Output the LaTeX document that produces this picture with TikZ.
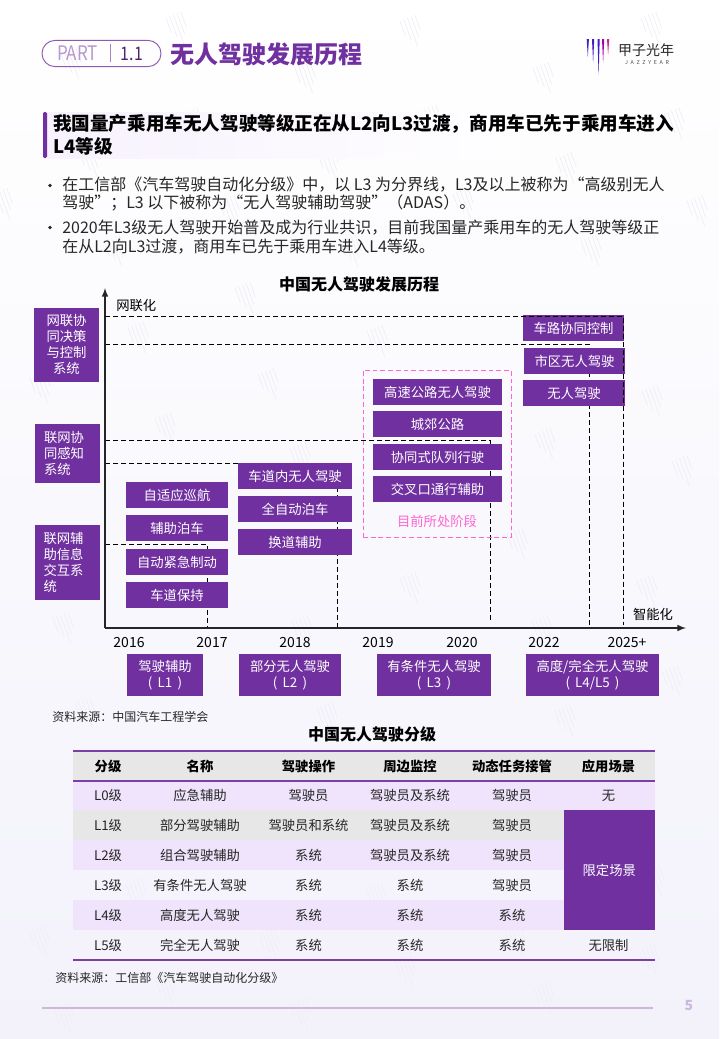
\documentclass[tikz,border=0pt]{standalone}
\usepackage{fontspec}
\setmainfont{Noto Sans CJK SC}
\usepackage{tikz}
\definecolor{jzpurple}{HTML}{7030A0}
\definecolor{jzpink}{HTML}{FF66D2}
\definecolor{jzrow}{HTML}{EFE4FB}
\definecolor{jzgray}{HTML}{E7E7E7}
\definecolor{jzrule}{HTML}{7B3FA8}
\definecolor{jzpage}{HTML}{F3F2FB}
\definecolor{jzmark}{HTML}{EFEDF5}
\tikzset{
    purplebox/.style={fill=jzpurple, text=white, inner sep=0pt, align=center, minimum height=19.5pt, font=\fontsize{10}{12}\selectfont},
    sidebox/.style={purplebox, text width=35.25pt, inner xsep=6.75pt, align=left},
    stagebox/.style={purplebox, minimum height=31.5pt},
    guide/.style={line width=0.75pt, dash pattern=on 4pt off 2pt},
    axisline/.style={-latex, line width=1.2pt, draw=black!85},
    yearlabel/.style={font=\fontsize{10.5}{12}\selectfont, inner sep=0pt},
    bodyline/.style={anchor=west, inner sep=0pt, font=\fontsize{12}{14}\selectfont, text=black!85},
    headline/.style={anchor=west, inner sep=0pt, font=\fontsize{13.93}{16}\selectfont\bfseries, text=black},
    charttitle/.style={inner sep=0pt, font=\fontsize{12}{14}\selectfont\bfseries},
    cell/.style={inner sep=0pt, font=\fontsize{10}{12}\selectfont, text=black!85},
    headcell/.style={inner sep=0pt, font=\fontsize{10}{12}\selectfont\bfseries},
    sourcenote/.style={anchor=west, inner sep=0pt, font=\fontsize{9}{11}\selectfont, text=black!85},
    bulletdot/.style={circle, fill=black!85, inner sep=0pt, minimum size=2.8pt}
}
\begin{document}
\begin{tikzpicture}[x=0.75pt, y=-0.75pt]
    % Page
    \shade[top color=white, bottom color=jzpage] (0,0) rectangle (719,1039);
    \useasboundingbox (0,0) rectangle (719,1039);

    % Watermarks
    \foreach \xpos/\ypos in {76/63, 181/27, 310/77, 415/30, 548/77, 656/27, 94/160, 197/123, 333/163, 436/120, 571/167, 679/123, 7/203, 119/250, 234/210, 355/250, 468/203, 596/250, 702/210, 250/297, 143/337, 273/383, 170/427, 305/457, 68/627, 307/630, 45/387, 382/340, 550/443, 657/400, 522/543, 415/587, 652/590, 547/630, 687/470, 677/680, 332/717, 570/720, 90/713, 141/893, 381/897, 659/880, 274/943, 520/940, 44/940, 410/970, 654/960, 170/987, 549/997, 305/1013, 69/1017}
    {
        \begin{scope}[shift={(\xpos,\ypos)}, rotate=20, draw=jzmark, line width=0.5pt]
            \draw (-11,-14) -- (-11,2);
            \draw (-7,-14) -- (-7,8);
            \draw (-3,-14) -- (-3,16);
            \draw (1,-14) -- (1,8);
            \draw (5,-14) -- (5,2);
        \end{scope}
    }

    % Header
    \node[draw=jzpurple!80!white, line width=0.7pt, rounded corners=9.8pt, minimum width=89.25pt, minimum height=19.7pt, inner sep=0pt] (pill) at (101.5,53.5) {};
    \node[inner sep=0pt, xscale=0.85, font=\fontsize{15}{16}\selectfont, text=jzpurple!50!white] (part) at (77.5,53.5) {PART};
    \node[inner sep=0pt, xscale=0.85, font=\fontsize{14}{16}\selectfont, text=jzpurple!70!black] (partno) at (132,53.5) {1.1};
    \draw[jzpurple!60!white, line width=0.6pt] (110,44) -- (110,62);
    \node[anchor=west, inner sep=0pt, font=\fontsize{18}{20}\selectfont\bfseries, text=jzpurple] (pagetitle) at (170.5,54) {无人驾驶发展历程};

    % Logo
    \fill[jzpurple!60!blue] (586.7,39) -- (588.9,39) -- (587.8,57) -- cycle;
    \fill[jzpurple!60!blue] (592,39) -- (594.2,39) -- (593.1,63) -- cycle;
    \fill[blue!45!jzpurple] (597.5,39) -- (599.7,39) -- (598.6,75) -- cycle;
    \fill[violet!70!magenta] (602,39) -- (604.2,39) -- (603.1,63) -- cycle;
    \fill[magenta!60!violet] (607,39) -- (609.2,39) -- (608.1,55) -- cycle;
    \node[inner sep=0pt, font=\fontsize{10.5}{12}\selectfont, text=black!85] (logotext) at (646,50) {甲子光年};
    \node[inner sep=0pt, font=\fontsize{4}{5}\selectfont, text=black!70] (logolatin) at (647,63) {J\,\,\,A\,\,\,Z\,\,\,Z\,\,\,Y\,\,\,E\,\,\,A\,\,\,R};

    % Heading
    \shade[left color=jzrow!50!white, right color=white!97!jzrow] (47,112) rectangle (520,158);
    \fill[jzpurple, rounded corners=1pt] (43,112) rectangle (47,158);
    \node[headline] (head1) at (53,124) {我国量产乘用车无人驾驶等级正在从L2向L3过渡，商用车已先于乘用车进入};
    \node[headline] (head2) at (53,146) {L4等级};

    % Bullets
    \node[bulletdot] (dot1) at (50,185.5) {};
    \node[bodyline] (text1) at (62,185) {在工信部《汽车驾驶自动化分级》中，以 L3 为分界线，L3及以上被称为“高级别无人};
    \node[bodyline] (text2) at (62,203) {驾驶”；L3 以下被称为“无人驾驶辅助驾驶”（ADAS）。};
    \node[bulletdot] (dot2) at (50,227.5) {};
    \node[bodyline] (text3) at (62,228) {2020年L3级无人驾驶开始普及成为行业共识，目前我国量产乘用车的无人驾驶等级正};
    \node[bodyline] (text4) at (62,247) {在从L2向L3过渡，商用车已先于乘用车进入L4等级。};

    % Chart
    \node[charttitle] (chart) at (359,284) {中国无人驾驶发展历程};
    \coordinate (origin) at (105,628);
    \coordinate (ytip) at (105,288);
    \coordinate (xtip) at (686,628);
    \coordinate (g1) at (207,544);
    \coordinate (g2) at (337,463);
    \coordinate (g3) at (490,440);
    \coordinate (g3end) at (490,620);
    \coordinate (g4) at (589,344);
    \coordinate (g5) at (623.5,316);
    \coordinate (g5end) at (623.5,625);

    % Lines
    \draw[guide] (origin |- g1) -- (g1) -- (origin -| g1);
    \draw[guide] (origin |- g2) -- (g2) -- (origin -| g2);
    \draw[guide] (origin |- g3) -- (g3) -- (g3end);
    \draw[guide] (origin |- g4) -- (g4) -- (origin -| g4);
    \draw[axisline] (origin) -- (ytip);
    \draw[axisline] (origin) -- (xtip);
    \node[anchor=west, inner sep=0pt, font=\fontsize{10}{12}\selectfont] (ylabel) at (116,305) {网联化};
    \node[inner sep=0pt, font=\fontsize{10}{12}\selectfont] (xlabel) at (653,614) {智能化};

    % Side boxes
    \node[purplebox, minimum width=48.75pt, minimum height=55.5pt] (net3) at (66.5,344.5) {网联协\\同决策\\与控制\\系统};
    \node[sidebox, minimum height=44.25pt] (net2) at (67.5,453.5) {联网协\\同感知\\系统};
    \node[sidebox, minimum height=56.25pt] (net1) at (67,562.5) {联网辅\\助信息\\交互系\\统};

    % Feature boxes
    \node[purplebox, minimum width=76.5pt] (acc) at (177,495) {自适应巡航};
    \node[purplebox, minimum width=76.5pt] (park) at (177,528) {辅助泊车};
    \node[purplebox, minimum width=76.5pt] (brake) at (177,562) {自动紧急制动};
    \node[purplebox, minimum width=76.5pt] (keep) at (177,595) {车道保持};
    \node[purplebox, minimum width=85.5pt] (lane) at (295,476) {车道内无人驾驶};
    \node[purplebox, minimum width=85.5pt] (autopark) at (295,509) {全自动泊车};
    \node[purplebox, minimum width=85.5pt] (change) at (295,542) {换道辅助};
    \node[purplebox, minimum width=96.75pt] (highway) at (437.5,392) {高速公路无人驾驶};
    \node[purplebox, minimum width=96.75pt] (suburb) at (437.5,424) {城郊公路};
    \node[purplebox, minimum width=96.75pt] (platoon) at (437.5,457) {协同式队列行驶};
    \node[purplebox, minimum width=96.75pt] (cross) at (437.5,489) {交叉口通行辅助};
    \node[purplebox, minimum width=75.75pt] (v2x) at (573.5,328) {车路协同控制};
    \node[purplebox, minimum width=75.75pt] (urban) at (574.5,361) {市区无人驾驶};
    \node[purplebox, minimum width=76.5pt] (driverless) at (574,393) {无人驾驶};

    % Current stage
    \node[draw=jzpink, line width=0.7pt, dash pattern=on 3.6pt off 2.2pt, minimum width=111pt, minimum height=125.25pt, inner sep=0pt] (stage) at (437,453.5) {};
    \node[inner sep=0pt, font=\fontsize{10}{12}\selectfont, text=jzpink] (stagetext) at (437,521) {目前所处阶段};

    % Last lines
    \draw[guide] (origin |- g5) -- (g5) -- (g5end);

    % Years
    \node[yearlabel] (y2016) at (129,643) {2016};
    \node[yearlabel] (y2017) at (212,643) {2017};
    \node[yearlabel] (y2018) at (295,643) {2018};
    \node[yearlabel] (y2019) at (378,643) {2019};
    \node[yearlabel] (y2020) at (462,643) {2020};
    \node[yearlabel] (y2022) at (544,643) {2022};
    \node[yearlabel] (y2025) at (627,643) {2025+};

    % Stage boxes
    \node[stagebox, minimum width=57pt] (l1) at (165,675) {驾驶辅助\\( \,L1\, )};
    \node[stagebox, minimum width=76.5pt] (l2) at (290,675) {部分无人驾驶\\( \,L2\, )};
    \node[stagebox, minimum width=85.5pt] (l3) at (434,675) {有条件无人驾驶\\( \,L3\, )};
    \node[stagebox, minimum width=99.75pt] (l45) at (592.5,675) {高度/完全无人驾驶\\( \,L4/L5\, )};

    \node[sourcenote] (source1) at (52,717) {资料来源：中国汽车工程学会};

    % Table
    \node[charttitle] (table) at (372,734) {中国无人驾驶分级};
    \fill[jzgray] (73,751) rectangle (655,781);
    \fill[jzrow] (73,781) rectangle (655,810);
    \fill[jzgray] (73,810) rectangle (564,840);
    \fill[jzrow] (73,840) rectangle (564,870);
    \fill[jzrow] (73,900) rectangle (564,930);
    \draw[jzrule, line width=1.1pt] (73,751) -- (655,751);
    \draw[jzrule, line width=1.1pt] (73,781) -- (655,781);
    \draw[jzrule, line width=1.3pt] (73,960) -- (655,960);
    \node[purplebox, minimum width=68.6pt, minimum height=90pt] (limited) at (609.3,870) {限定场景};

    \node[headcell] (h1) at (108,766) {分级};
    \node[headcell] (h2) at (200,766) {名称};
    \node[headcell] (h3) at (308.5,766) {驾驶操作};
    \node[headcell] (h4) at (410,766) {周边监控};
    \node[headcell] (h5) at (512,766) {动态任务接管};
    \node[headcell] (h6) at (608.5,766) {应用场景};

    \node[cell] (a0) at (108,795.5) {L0级};
    \node[cell] (b0) at (200,795.5) {应急辅助};
    \node[cell] (c0) at (308.5,795.5) {驾驶员};
    \node[cell] (d0) at (410,795.5) {驾驶员及系统};
    \node[cell] (e0) at (512,795.5) {驾驶员};
    \node[cell] (f0) at (608.5,795.5) {无};

    \node[cell] (a1) at (108,825.5) {L1级};
    \node[cell] (b1) at (200,825.5) {部分驾驶辅助};
    \node[cell] (c1) at (308.5,825.5) {驾驶员和系统};
    \node[cell] (d1) at (410,825.5) {驾驶员及系统};
    \node[cell] (e1) at (512,825.5) {驾驶员};

    \node[cell] (a2) at (108,855.5) {L2级};
    \node[cell] (b2) at (200,855.5) {组合驾驶辅助};
    \node[cell] (c2) at (308.5,855.5) {系统};
    \node[cell] (d2) at (410,855.5) {驾驶员及系统};
    \node[cell] (e2) at (512,855.5) {驾驶员};

    \node[cell] (a3) at (108,885.5) {L3级};
    \node[cell] (b3) at (200,885.5) {有条件无人驾驶};
    \node[cell] (c3) at (308.5,885.5) {系统};
    \node[cell] (d3) at (410,885.5) {系统};
    \node[cell] (e3) at (512,885.5) {驾驶员};

    \node[cell] (a4) at (108,915.5) {L4级};
    \node[cell] (b4) at (200,915.5) {高度无人驾驶};
    \node[cell] (c4) at (308.5,915.5) {系统};
    \node[cell] (d4) at (410,915.5) {系统};
    \node[cell] (e4) at (512,915.5) {系统};

    \node[cell] (a5) at (108,945.5) {L5级};
    \node[cell] (b5) at (200,945.5) {完全无人驾驶};
    \node[cell] (c5) at (308.5,945.5) {系统};
    \node[cell] (d5) at (410,945.5) {系统};
    \node[cell] (e5) at (512,945.5) {系统};
    \node[cell] (f5) at (608.5,945.5) {无限制};

    \node[sourcenote] (source2) at (55,978) {资料来源：工信部《汽车驾驶自动化分级》};

    % Footer
    \draw[jzpurple!35!white, line width=1.6pt] (42,1008) -- (653,1008);
    \node[inner sep=0pt, font=\fontsize{10.5}{12}\selectfont\bfseries, text=jzpurple!35!white] (pageno) at (689,1006) {5};
\end{tikzpicture}
\end{document}
